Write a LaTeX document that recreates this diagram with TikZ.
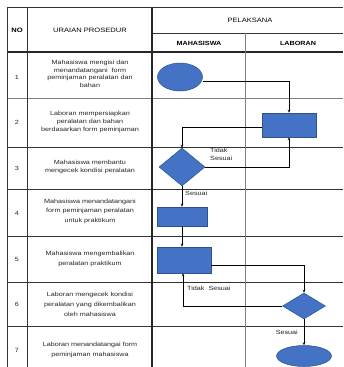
\documentclass[tikz,border=0pt]{standalone}
\usepackage{fontspec}
\setmainfont{Liberation Sans}[FakeStretch=1.2]
\usetikzlibrary{arrows.meta,shapes.geometric,calc}
\definecolor{shapefill}{HTML}{4472C4}
\definecolor{shapeline}{HTML}{2F528F}
\tikzset{
  grid/.style={line width=0.7pt,black!80},
  thickgrid/.style={line width=1.3pt,black!85},
  lightgrid/.style={line width=0.6pt,black!50},
  txt/.style={font=\fontsize{6}{8.5}\selectfont,align=center,text=black!85},
  hdr/.style={font=\fontsize{6.3}{7}\selectfont,text=black},
  lbl/.style={font=\fontsize{6}{7.5}\selectfont,align=left,text=black!85,inner sep=0pt},
  oval/.style={ellipse,fill=shapefill,draw=shapeline,line width=0.5pt,inner sep=0pt},
  procbox/.style={rectangle,fill=shapefill,draw=shapeline,line width=0.5pt,inner sep=0pt},
  decision/.style={diamond,fill=shapefill,draw=shapeline,line width=0.5pt,inner sep=0pt,aspect=1.2},
  flow/.style={line width=0.7pt,black,-{Stealth[length=3pt,width=2.5pt]}},
}
\begin{document}
\begin{tikzpicture}[x=1pt,y=-1pt]
\useasboundingbox (0,0) rectangle (343,367);
% table lines
\draw[grid] (7,7) -- (343,7);
\draw[grid] (152,33) -- (343,33);
\draw[thickgrid] (7,52) -- (343,52);
\draw[lightgrid] (7,98) -- (343,98);
\draw[grid] (7,147) -- (343,147);
\draw[grid] (7,189) -- (343,189);
\draw[grid] (7,236) -- (343,236);
\draw[grid] (7,282) -- (343,282);
\draw[grid] (7,326) -- (343,326);
\draw[grid] (7,7) -- (7,367);
\draw[grid] (27,7) -- (27,367);
\draw[thickgrid] (152,7) -- (152,367);
\draw[lightgrid] (245,33) -- (245,367);
% headers
\node[hdr,font=\fontsize{6.3}{7}\bfseries] (hno) at (17,30) {NO};
\node[hdr] (hur) at (90,30) {URAIAN PROSEDUR};
\node[hdr] (hpl) at (250,20) {PELAKSANA};
\node[hdr,font=\fontsize{6}{7}\bfseries] (hmh) at (199,43) {MAHASISWA};
\node[hdr,font=\fontsize{6}{7}\bfseries] (hlb) at (298,43) {LABORAN};
% numbers
\node[txt] (n1) at (17,77) {1};
\node[txt] (n2) at (17,122) {2};
\node[txt] (n3) at (17,168) {3};
\node[txt] (n4) at (17,213) {4};
\node[txt] (n5) at (17,259) {5};
\node[txt] (n6) at (17,304) {6};
\node[txt] (n7) at (17,350) {7};
% descriptions
\node[txt,font=\fontsize{6}{7.6}\selectfont] (d1) at (90,74) {Mahasiswa mengisi dan\\menandatangani \ form\\peminjaman peralatan dan\\bahan};
\node[txt,font=\fontsize{6}{8}\selectfont] (d2) at (90,122) {Laboran mempersiapkan\\peralatan dan bahan\\berdasarkan form peminjaman};
\node[txt] (d3) at (90,167) {Mahasiswa membantu\\mengecek kondisi peralatan};
\node[txt,font=\fontsize{6}{9.5}\selectfont] (d4) at (90,211) {Mahasiswa menandatangani\\form peminjaman peralatan\\untuk praktikum};
\node[txt,font=\fontsize{6}{10}\selectfont] (d5) at (90,259) {Mahasiswa mengembalikan\\peralatan praktikum};
\node[txt,font=\fontsize{6}{10}\selectfont] (d6) at (90,304) {Laboran mengecek kondisi\\peralatan yang dikembalikan\\oleh mahasiswa};
\node[txt,font=\fontsize{6}{10}\selectfont] (d7) at (90,350) {Laboran menandatangai form\\peminjaman mahasiswa};
% shapes
\node[oval,minimum width=45pt,minimum height=28pt] (s1) at (180,77) {};
\node[procbox,minimum width=54pt,minimum height=24pt] (s2) at (289,125) {};
\node[decision,minimum width=46pt,minimum height=38pt] (s3) at (182,167) {};
\node[procbox,minimum width=50pt,minimum height=19pt] (s4) at (182,216.5) {};
\node[procbox,minimum width=54pt,minimum height=26pt] (s5) at (184,260) {};
\node[decision,minimum width=43pt,minimum height=26pt] (s6) at (304,306) {};
\node[oval,minimum width=55pt,minimum height=21pt] (s7) at (304,356) {};
% connectors
\coordinate (c1) at ([yshift=-4pt]s1.east);
\draw[flow] (c1) -| (s2.north);
\coordinate (c2) at ([yshift=-2pt]s2.west);
\draw[flow] (c2) -| (s3.north);
\draw[flow] (s3.east) -| (s2.south);
\draw[flow] (s3.south) -- (s3.south |- s4.north);
\draw[flow] ([xshift=0pt]s4.south) -- (s4.south |- s5.north);
\coordinate (c5) at ([yshift=-5pt]s5.east);
\draw[flow] (c5) -| (s6.north);
\coordinate (c5b) at ([xshift=-1pt]s5.south);
\draw[flow] (s6.west) -| (c5b);
\draw[flow] (s6.south) -- (s7.north);
% labels
\node[lbl,anchor=north west] (l1) at (210,148) {Tidak\\Sesuai};
\node[lbl,anchor=west] (l2) at (185,193) {Sesuai};
\node[lbl,anchor=west] (l3) at (187,288) {Tidak \ Sesuai};
\node[lbl,anchor=east] (l4) at (298,332) {Sesuai};
\end{tikzpicture}
\end{document}
